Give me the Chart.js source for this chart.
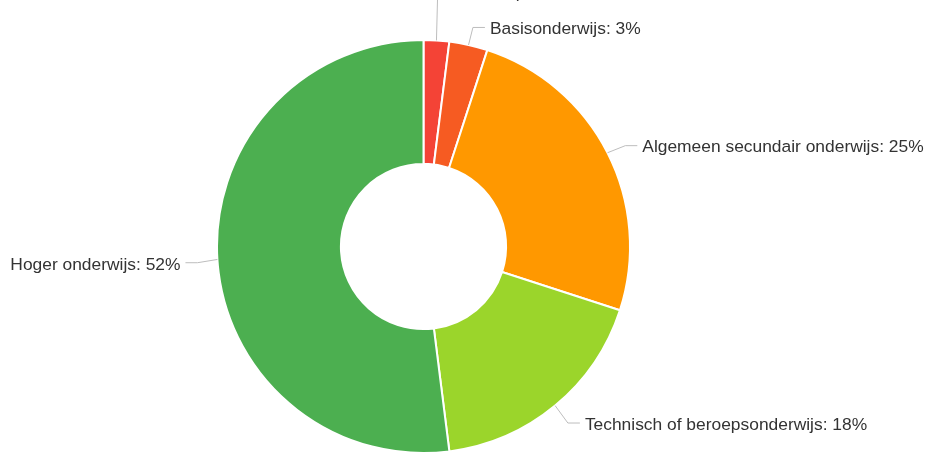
<!DOCTYPE html>
<html>
<head>
<meta charset="utf-8">
<script src="https://cdn.jsdelivr.net/npm/chart.js@4"></script>
<style>
html,body{margin:0;padding:0;background:#fff;}
#wrap{width:928px;height:454px;position:relative;}
</style>
</head>
<body>
<div id="wrap"><canvas id="c" width="928" height="454"></canvas></div>
<script>
const categories = ["Geen diploma", "Basisonderwijs", "Algemeen secundair onderwijs", "Technisch of beroepsonderwijs", "Hoger onderwijs"];
const shares = [2, 3, 25, 18, 52];
const sliceColors = ["#F44336", "#F65B22", "#FF9800", "#9BD52B", "#4CAF50"];

const labelPlugin = {
  id: 'leaderLabels',
  afterDatasetsDraw(chart) {
    const ctx = chart.ctx;
    const meta = chart.getDatasetMeta(0);
    const total = shares.reduce((a, b) => a + b, 0);
    const items = meta.data.map((arc, i) => {
      const p = arc.getProps(['x', 'y', 'startAngle', 'endAngle', 'outerRadius'], true);
      const a = (p.startAngle + p.endAngle) / 2;
      const R = p.outerRadius;
      const x0 = p.x + R * Math.cos(a), y0 = p.y + R * Math.sin(a);
      const x1 = p.x + (R + 20) * Math.cos(a), y1 = p.y + (R + 20) * Math.sin(a);
      return {i, a, x0, y0, x1, y1, ly: y1 + 2, right: Math.cos(a) >= 0,
        text: categories[i] + ': ' + Math.round(shares[i] / total * 100) + '%'};
    });
    [true, false].forEach(side => {
      const s = items.filter(o => o.right === side).sort((a, b) => a.y1 - b.y1);
      for (let k = s.length - 2; k >= 0; k--) {
        if (s[k].ly > s[k + 1].ly - 36) s[k].ly = s[k + 1].ly - 36;
      }
    });
    ctx.save();
    ctx.font = '17.4px "Liberation Sans", Arial, sans-serif';
    ctx.textBaseline = 'middle';
    items.forEach(o => {
      const dir = o.right ? 1 : -1;
      const xe = o.x1 + dir * 12;
      ctx.strokeStyle = '#bdbdbd';
      ctx.lineWidth = 1;
      ctx.beginPath();
      ctx.moveTo(o.x0, o.y0);
      ctx.lineTo(o.x1, o.ly);
      ctx.lineTo(xe, o.ly);
      ctx.stroke();
      ctx.fillStyle = '#333333';
      ctx.textAlign = o.right ? 'left' : 'right';
      ctx.fillText(o.text, xe + dir * 5, o.ly + 2);
    });
    ctx.restore();
  }
};

new Chart(document.getElementById('c'), {
  type: 'doughnut',
  data: {
    labels: categories,
    datasets: [{
      data: shares,
      backgroundColor: sliceColors,
      borderColor: '#ffffff',
      borderWidth: 2,
      hoverOffset: 0
    }]
  },
  options: {
    responsive: false,
    animation: false,
    cutout: '40%',
    layout: {padding: {top: 39, bottom: 0, left: 216, right: 297}},
    plugins: {legend: {display: false}, tooltip: {enabled: false}}
  },
  plugins: [labelPlugin]
});
</script>
</body>
</html>
